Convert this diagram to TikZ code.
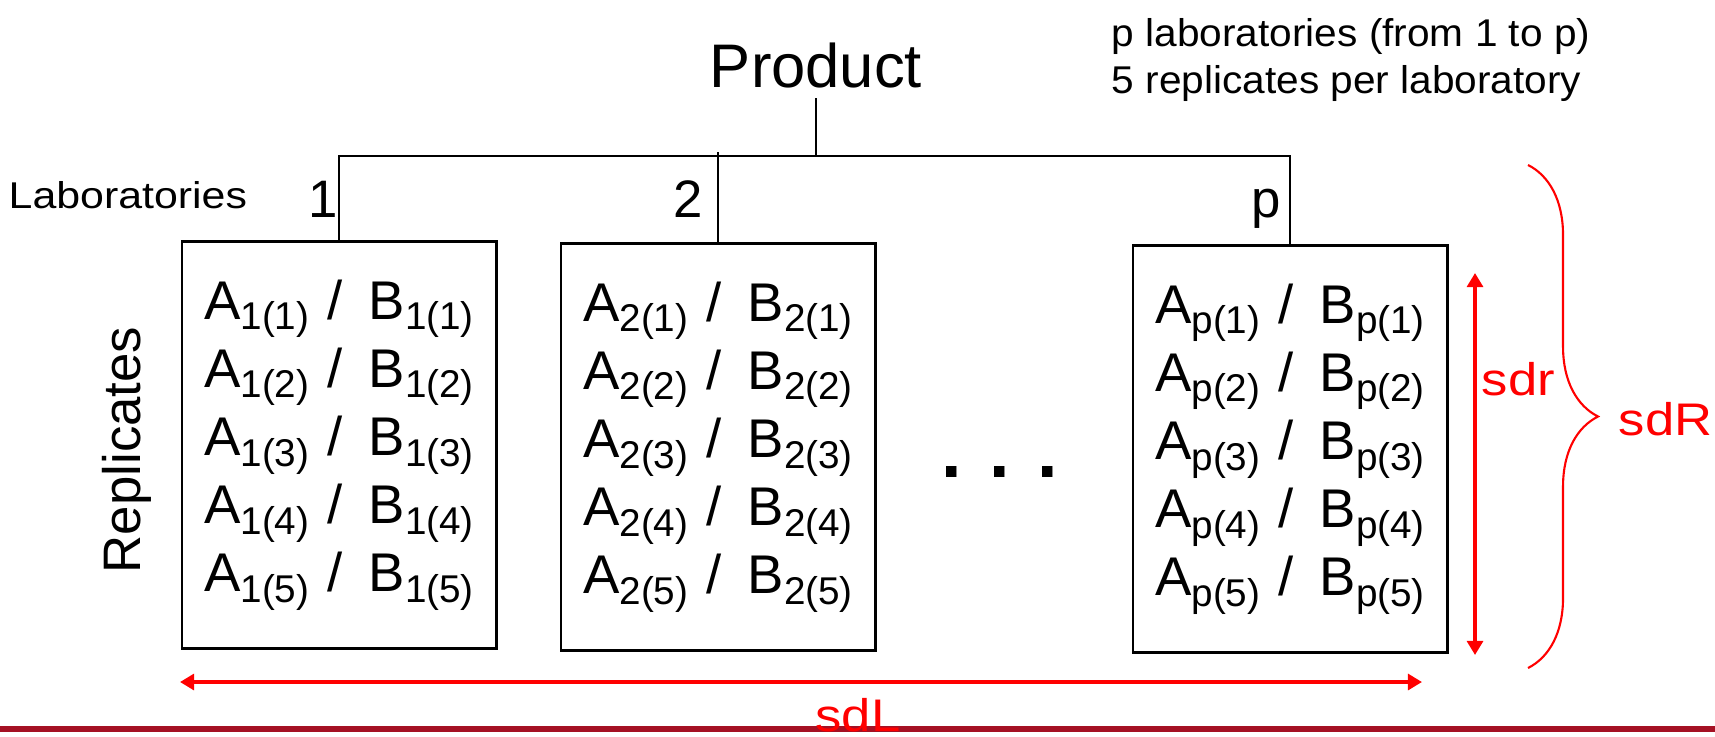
\documentclass[tikz,border=0pt]{standalone}
\usepackage{fontspec}
\setmainfont{Liberation Sans}
\newfontfamily\widesf{Liberation Sans}[FakeStretch=1.15]
\newfontfamily\notesf{Liberation Sans}[FakeStretch=1.05]
\usetikzlibrary{arrows.meta,decorations.pathreplacing}

\definecolor{sdred}{RGB}{255,0,0}
\definecolor{barred}{RGB}{165,17,36}

% A/B pair of one replicate, lab index and replicate index as subscript
\newcommand{\lsub}[1]{\raisebox{-3pt}{\fontsize{11}{11}\selectfont #1}}
\newcommand{\pair}[2]{A\lsub{#1(#2)}\hspace{0.33em}/\hspace{0.48em}B\lsub{#1(#2)}}
\newcommand{\reps}[1]{\pair{#1}{1}\\\pair{#1}{2}\\\pair{#1}{3}\\\pair{#1}{4}\\\pair{#1}{5}}

\begin{document}
\begin{tikzpicture}[x=0.01cm,y=-0.01cm,
    labbox/.style={draw,line width=0.8pt,minimum width=3.14cm,minimum height=4.06cm,
      inner sep=0pt,align=left,font=\fontsize{15.5}{19.35}\selectfont},
    tree/.style={line width=0.7pt},
    sdarrow/.style={sdred,line width=1pt,{Triangle[length=4pt,width=4.5pt]}-{Triangle[length=4pt,width=4.5pt]}},
    sdlabel/.style={sdred,inner sep=0pt,font=\widesf\fontsize{13}{13}\selectfont},
    lablabel/.style={inner sep=0pt,font=\fontsize{15}{15}\selectfont}]
  \useasboundingbox (0,0) rectangle (1715,736);

  % laboratories and their replicates
  \node[labbox] (box1) at (339,445) {\reps{1}};
  \node[labbox] (box2) at (718,447) {\reps{2}};
  \node[labbox] (boxp) at (1290,449) {\reps{p}};
  \node[anchor=base,inner sep=0pt,font=\bfseries\fontsize{21}{21}\selectfont] (dots) at (1000,477) {. . .};

  % tree from the product down to the labs
  \node[anchor=base,inner sep=2.8pt,font=\fontsize{17.5}{17.5}\selectfont] (product) at (816,87) {Product};
  \coordinate (hub) at (816,156);
  \draw[tree] (product.south) -- (hub);
  \draw[tree] (box1.north) |- (hub) -| (boxp.north);
  \draw[line width=0.4pt] (box2.north) -- (box2.north |- hub) -- ++(0,-4);
  \node[lablabel,anchor=base east] (n1) at (339,217) {1};
  \node[lablabel,anchor=base east] (n2) at (704,217) {2};
  \node[lablabel,anchor=base east] (np) at (1282,217) {p};

  \node[anchor=base west,inner sep=0pt,font=\widesf\fontsize{10.6}{10.6}\selectfont] (labs) at (8,208) {Laboratories};
  \node[anchor=base,rotate=90,inner sep=0pt,font=\fontsize{15}{15}\selectfont] (repl) at (140,450) {Replicates};
  \node[anchor=north west,align=left,inner sep=0pt,font=\notesf\fontsize{11}{13.4}\selectfont] (note) at (1111,18)
    {p laboratories (from 1 to p)\\5 replicates per laboratory};

  % standard deviations
  \coordinate (rtop) at (1475,273);
  \coordinate (rbot) at (1475,655);
  \draw[sdarrow] (rtop) -- (rbot);
  \node[sdlabel,anchor=base west] (sdr) at (1481,395) {sdr};

  \coordinate (btop) at (1528,165);
  \coordinate (bbot) at (1528,668);
  \draw[sdred,line width=0.6pt,decorate,decoration={brace,amplitude=0.7cm}] (btop) -- (bbot);
  \node[sdlabel,anchor=base west] (sdR) at (1618,435) {sdR};

  \coordinate (lleft) at (180,682);
  \coordinate (lright) at (1422,682);
  \draw[sdarrow] (lleft) -- (lright);
  \draw[barred,line width=1.7pt] (0,729) -- (1715,729);
  \node[sdlabel,anchor=base] (sdL) at (858,731) {sdL};
\end{tikzpicture}
\end{document}
